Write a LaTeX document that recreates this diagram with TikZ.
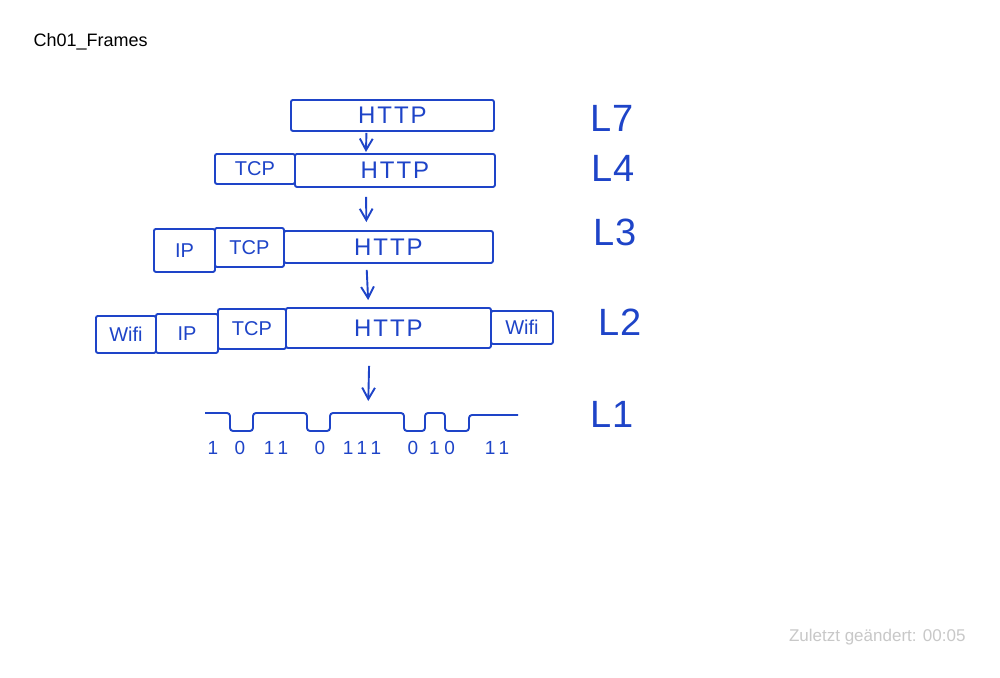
\documentclass[tikz,border=0pt]{standalone}
\usepackage{fontspec}
\setmainfont{Liberation Sans}
\usepackage{tikz}
\usetikzlibrary{positioning}
\usetikzlibrary{arrows.meta}
\definecolor{pencolor}{RGB}{30,68,200}
\definecolor{notecolor}{RGB}{200,200,200}

\begin{document}
\begin{tikzpicture}[
    x=1pt, y=-1pt,
    frame/.style={draw=pencolor, line width=1.9pt, rounded corners=2pt, inner sep=0pt, anchor=north west, text=pencolor, font=\fontsize{24}{24}\selectfont\addfontfeature{LetterSpace=8}},
    hdr/.style={frame, font=\fontsize{20}{20}\selectfont},
    layer/.style={text=pencolor, font=\fontsize{38}{38}\selectfont},
    bit/.style={text=pencolor, font=\fontsize{19}{19}\selectfont\addfontfeature{LetterSpace=25}},
    arrow/.style={-{Straight Barb[length=4mm, width=4.5mm]}, draw=pencolor, line width=1.9pt}
]
\useasboundingbox (0,0) rectangle (1000,677);
\fill[white] (0,0) rectangle (1000,677);

\node[anchor=west, font=\fontsize{18}{18}\selectfont] (title) at (30,42) {Ch01\_Frames};
\node[anchor=east, text=notecolor, font=\fontsize{17}{17}\selectfont] (stamp) at (969,637) {Zuletzt geändert: 00:05};

% L7
\node[frame, minimum width=203, minimum height=31] (l7http) at (290,99) {\raisebox{-2pt}{HTTP}};
% L4
\node[hdr, minimum width=80, minimum height=30] (l4tcp) at (214,153) {TCP};
\node[frame, minimum width=200, minimum height=33] (l4http) at (294,153) {HTTP};
% L3
\node[hdr, minimum width=61, minimum height=43] (l3ip) at (153,228) {IP};
\node[hdr, minimum width=69, minimum height=39] (l3tcp) at (214,227) {TCP};
\node[frame, minimum width=209, minimum height=32] (l3http) at (283,230) {HTTP};
% L2
\node[hdr, minimum width=60, minimum height=37] (l2wifi) at (95,315) {Wifi};
\node[hdr, minimum width=62, minimum height=39] (l2ip) at (155,313) {IP};
\node[hdr, minimum width=68, minimum height=40] (l2tcp) at (217,308) {TCP};
\node[frame, minimum width=205, minimum height=40] (l2http) at (285,307) {\raisebox{-5pt}{HTTP}};
\node[hdr, minimum width=62, minimum height=33] (l2trail) at (490,310) {Wifi};

% L1 signal
\draw[pencolor, line width=1.9pt, rounded corners=3pt]
    (205,413) -- (230,413) -- (230,431) -- (253,431) -- (253,413) -- (307,413)
    -- (307,431) -- (330,431) -- (330,413) -- (404,413) -- (404,431) -- (425,431)
    -- (425,413) -- (445,413) -- (445,431) -- (469,431) -- (469,415) -- (518,415);
\coordinate (wave) at (368,413);
\foreach \bx/\bt [count=\i] in {213/1, 240/0, 276/11, 320/0, 362/111, 413/0, 442/10, 497/11}
    \node[bit] (bit\i) at (\bx,448) {\bt};

\draw[arrow, shorten <=1pt, shorten >=1pt] ([xshift=-26]l7http.south) -- ([xshift=-29]l4http.north);
\draw[arrow, shorten <=9pt, shorten >=8pt] ([xshift=-29]l4http.south) -- ([xshift=-22]l3http.north);
\draw[arrow, shorten <=6pt, shorten >=7pt] ([xshift=-22]l3http.south) -- ([xshift=-20]l2http.north);
\draw[arrow, shorten <=17pt, shorten >=12pt] ([xshift=-19]l2http.south) -- (wave);

% Layer labels
\node[layer] (lab7) at (612,118) {L7};
\node[layer] (lab4) at (613,168) {L4};
\node[layer] (lab3) at (615,232) {L3};
\node[layer] (lab2) at (620,322) {L2};
\node[layer] (lab1) at (612,414) {L1};

\end{tikzpicture}
\end{document}
